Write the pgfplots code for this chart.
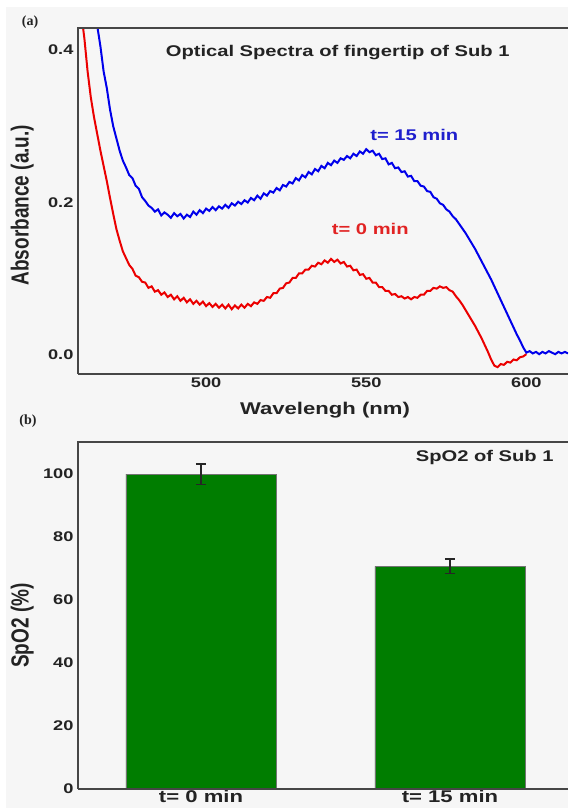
\documentclass[border=0pt]{standalone}
\usepackage{fontspec}
\setmainfont{Liberation Sans}
\newfontfamily\serifb{Liberation Serif}
\usepackage{pgfplots}
\pgfplotsset{compat=1.18}
\definecolor{bg}{RGB}{246,246,246}
\definecolor{txt}{RGB}{35,35,35}
\definecolor{framec}{RGB}{70,70,70}
\definecolor{lblue}{RGB}{0,0,235}
\definecolor{lred}{RGB}{235,0,0}
\definecolor{tblue}{RGB}{30,30,205}
\definecolor{tred}{RGB}{225,35,35}
\definecolor{bargreen}{RGB}{0,125,0}

\pgfplotsset{
 panel/.style={
  scale only axis, width=490pt, height=346pt,
  axis line style={draw=none},
  major tick length=0pt, minor tick num=0,
  tick label style={font=\fontsize{14}{16}\selectfont\bfseries, text=txt, xscale=1.3},
  /pgf/number format/assume math mode=true,
  clip mode=individual,
 }
}

\begin{document}
\begin{tikzpicture}
\path[use as bounding box, fill=white] (0pt,0pt) rectangle (568pt,808pt);
\fill[bg] (6pt,0pt) rectangle (568pt,801pt);

\begin{axis}[panel, name=top, at={(78pt,434pt)}, anchor=south west,
  xmin=460, xmax=613, ymin=-0.025, ymax=0.429,
  xtick={500,550,600}, ytick={0,0.2,0.4},
  yticklabel style={/pgf/number format/fixed, /pgf/number format/fixed zerofill, /pgf/number format/precision=1},
  xticklabel style={/pgf/number format/set thousands separator={}},
  xlabel={Wavelengh (nm)},
  xlabel style={font=\fontsize{17}{19}\selectfont\bfseries, text=txt, at={(axis description cs:0.504,-0.072)}, anchor=north, xscale=1.3},
  ylabel={Absorbance (a.u.)},
  ylabel style={font=\fontsize{19}{21}\selectfont\bfseries, text=txt, at={(axis description cs:-0.114,0.488)}, anchor=center, yscale=1.3},
]
\addplot[lred, line width=2pt] coordinates {
(461.5,0.432) (462,0.415) (463,0.372) (464,0.338) (465,0.312) (466,0.290) (467,0.268) (468,0.248) (469,0.228) (470,0.206)
(471,0.185) (472,0.165) (473,0.150) (474,0.136) (475,0.127) (476,0.118) (477,0.113) (478,0.104) (479,0.102) (480,0.096)
(481,0.095) (482,0.088) (483,0.090) (484,0.083) (485,0.085) (486,0.079) (487,0.082) (488,0.076) (489,0.079) (490,0.073)
(491,0.077) (492,0.071) (493,0.075) (494,0.069) (495,0.073) (496,0.067) (497,0.071) (498,0.066) (499,0.070) (500,0.064)
(501,0.068) (502,0.063) (503,0.067) (504,0.062) (505,0.066) (506,0.061) (507,0.066) (508,0.060) (509,0.065) (510,0.061)
(511,0.066) (512,0.062) (513,0.067) (514,0.064) (515,0.069) (516,0.067) (517,0.072) (518,0.071) (519,0.076) (520,0.075)
(521,0.081) (522,0.081) (523,0.087) (524,0.088) (525,0.094) (526,0.095) (527,0.101) (528,0.101) (529,0.107) (530,0.107)
(531,0.112) (532,0.112) (533,0.117) (534,0.116) (535,0.121) (536,0.119) (537,0.124) (538,0.121) (539,0.126) (540,0.122)
(541,0.125) (542,0.120) (543,0.122) (544,0.116) (545,0.117) (546,0.111) (547,0.112) (548,0.105) (549,0.106) (550,0.100)
(551,0.101) (552,0.095) (553,0.095) (554,0.089) (555,0.089) (556,0.084) (557,0.084) (558,0.079) (559,0.080) (560,0.076)
(561,0.077) (562,0.074) (563,0.076) (564,0.073) (565,0.076) (566,0.075) (567,0.079) (568,0.079) (569,0.084) (570,0.084)
(571,0.088) (572,0.087) (573,0.090) (574,0.088) (575,0.089) (576,0.085) (577,0.083) (578,0.077) (579,0.072) (580,0.066)
(581,0.059) (582,0.052) (583,0.045) (584,0.038) (585,0.030) (586,0.022) (587,0.013) (588,0.004) (589,-0.006) (590,-0.014)
(591,-0.016) (592,-0.012) (593,-0.013) (594,-0.009) (595,-0.010) (596,-0.006) (597,-0.007) (598,-0.003) (599,-0.002) (600,0.001)
};
\addplot[lblue, line width=2pt] coordinates {
(466,0.432) (467,0.405) (468,0.372) (469,0.350) (470,0.322) (471,0.300) (472,0.284) (473,0.268) (474,0.255) (475,0.246)
(476,0.236) (477,0.232) (478,0.222) (479,0.218) (480,0.207) (481,0.202) (482,0.196) (483,0.193) (484,0.188) (485,0.191)
(486,0.183) (487,0.187) (488,0.184) (489,0.180) (490,0.186) (491,0.182) (492,0.185) (493,0.179) (494,0.184) (495,0.181)
(496,0.188) (497,0.184) (498,0.190) (499,0.186) (500,0.192) (501,0.189) (502,0.194) (503,0.190) (504,0.195) (505,0.192)
(506,0.197) (507,0.193) (508,0.199) (509,0.196) (510,0.201) (511,0.198) (512,0.203) (513,0.200) (514,0.206) (515,0.203)
(516,0.209) (517,0.205) (518,0.212) (519,0.209) (520,0.215) (521,0.213) (522,0.219) (523,0.216) (524,0.223) (525,0.221)
(526,0.227) (527,0.225) (528,0.232) (529,0.229) (530,0.236) (531,0.233) (532,0.240) (533,0.237) (534,0.244) (535,0.241)
(536,0.248) (537,0.245) (538,0.252) (539,0.249) (540,0.255) (541,0.252) (542,0.258) (543,0.256) (544,0.261) (545,0.258)
(546,0.264) (547,0.261) (548,0.267) (549,0.264) (550,0.270) (551,0.266) (552,0.268) (553,0.262) (554,0.264) (555,0.257)
(556,0.258) (557,0.250) (558,0.252) (559,0.245) (560,0.246) (561,0.240) (562,0.241) (563,0.234) (564,0.235) (565,0.228)
(566,0.228) (567,0.222) (568,0.221) (569,0.215) (570,0.214) (571,0.207) (572,0.205) (573,0.199) (574,0.197) (575,0.191)
(576,0.188) (577,0.182) (578,0.178) (579,0.172) (580,0.166) (581,0.160) (582,0.153) (583,0.146) (584,0.139) (585,0.131)
(586,0.123) (587,0.115) (588,0.107) (589,0.099) (590,0.090) (591,0.081) (592,0.072) (593,0.063) (594,0.054) (595,0.045)
(596,0.036) (597,0.027) (598,0.019) (599,0.010) (600,0.003) (601,0.005) (602,0.002) (603,0.004) (604,0.001) (605,0.004)
(606,0.002) (607,0.005) (608,0.003) (609,0.001) (610,0.004) (611,0.002) (612,0.004) (613,0.002)
};
\node[font=\fontsize{15.5}{17}\selectfont\bfseries, text=txt, xscale=1.3] at (rel axis cs:0.53,0.928) {Optical Spectra of fingertip of Sub 1};
\node[font=\fontsize{15.5}{17}\selectfont\bfseries, text=tblue, xscale=1.3] at (axis cs:565,0.2885) {t= 15 min};
\node[font=\fontsize{15.5}{17}\selectfont\bfseries, text=tred, xscale=1.3] at (axis cs:551.25,0.165) {t= 0 min};
\end{axis}
\draw[framec, line width=1.8pt] (top.south west) -- (top.north west) -- (top.north east);
\draw[framec, line width=1.8pt] (top.south west) -- (top.south east);

\begin{axis}[panel, name=bot, at={(78pt,19pt)}, anchor=south west, height=347pt,
  xmin=-0.494, xmax=1.474, ymin=0, ymax=110,
  xtick={0,1}, xticklabels={{t= 0 min},{t= 15 min}},
  ytick={0,20,40,60,80,100},
  xticklabel style={font=\fontsize{17}{19}\selectfont\bfseries, inner sep=1pt},
  ylabel={SpO2 (\%)},
  ylabel style={font=\fontsize{19}{21}\selectfont\bfseries, text=txt, at={(axis description cs:-0.114,0.471)}, anchor=center, yscale=1.3},
]
\addplot[ybar, bar width=150pt, fill=bargreen, draw=black!55, line width=0.6pt,
  error bars/.cd, y dir=both, y explicit,
  error mark=-,
  error bar style={black!85, line width=1.5pt},
  error mark options={black!85, rotate=90, line width=1.5pt, mark size=5pt}]
  coordinates {(0,99.8) +- (0,3.3) (1,70.6) +- (0,2.3)};
\node[font=\fontsize{15.5}{17}\selectfont\bfseries, text=txt, xscale=1.3] at (rel axis cs:0.83,0.954) {SpO2 of Sub 1};
\end{axis}
\draw[framec, line width=1.8pt] (bot.south west) -- (bot.north west) -- (bot.north east);
\draw[framec, line width=1.8pt] (bot.south west) -- (bot.south east);

\node[font={\serifb\bfseries\fontsize{14}{16}\selectfont}, text=txt] at (30pt,786pt) {(a)};
\node[font={\serifb\bfseries\fontsize{14}{16}\selectfont}, text=txt] at (28pt,387pt) {(b)};
\end{tikzpicture}
\end{document}
